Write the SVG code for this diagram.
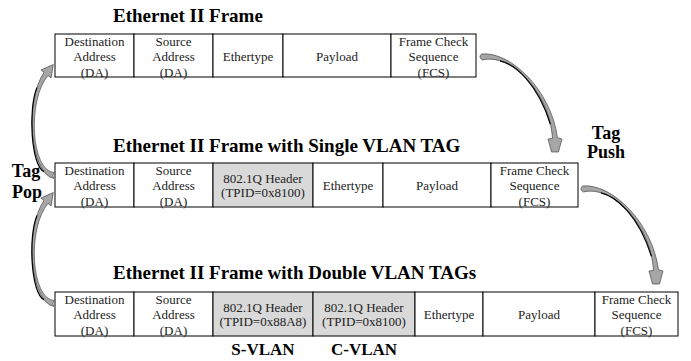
<svg xmlns="http://www.w3.org/2000/svg" width="691" height="361" viewBox="0 0 691 361">
<style>
.cell{fill:#fff;stroke:#000;stroke-width:1}
.tag{fill:#d9d9d9;stroke:#000;stroke-width:1}
.t{font-family:"Liberation Serif","Times New Roman",serif;font-size:13px;fill:#222;text-anchor:middle}
.title{font-family:"Liberation Serif","Times New Roman",serif;font-size:19px;font-weight:bold;fill:#000}
.lbl{font-family:"Liberation Serif","Times New Roman",serif;font-size:18px;font-weight:bold;fill:#000;text-anchor:middle}
.vl{font-family:"Liberation Serif","Times New Roman",serif;font-size:17px;font-weight:bold;fill:#000;text-anchor:middle}
.arr{fill:#a6a6a6;stroke:#333;stroke-width:0.6;stroke-linejoin:round}
.edge{fill:none;stroke:#000;stroke-width:1.2}
</style>
<defs>
<g id="pushArrow">
<path class="arr" d="M481.5,54 C510.4,51.1 550.9,89.6 557.5,137.7 L562,139 L558.5,152 L551.5,152 L548,139 L552.5,138.3 C549.1,90.4 509.6,52.9 482.5,60 Q478,57.5 481.5,54 Z"/>
<path class="edge" d="M500,60.8 C515,64 538,84 550.4,124.3"/>
</g>
<g id="popArrow">
<path class="arr" d="M53.6,178.5 C29.1,172.4 25,99.8 44,72.5 L40.9,70 L53.3,64.5 L51.1,78 L48,75.5 C27,100.2 30.9,171.6 54.4,172.5 Q52,175.5 53.6,178.5 Z"/>
<path class="edge" d="M44,171.6 C31,166 28,108 37,87.4"/>
</g>
</defs>

<text class="title" x="113" y="22">Ethernet II Frame</text>
<text class="title" x="113" y="152">Ethernet II Frame with Single VLAN TAG</text>
<text class="title" x="113" y="279">Ethernet II Frame with Double VLAN TAGs</text>

<g id="frame1">
<rect class="cell" x="55" y="34" width="79" height="43"/>
<rect class="cell" x="134" y="34" width="79" height="43"/>
<rect class="cell" x="213" y="34" width="70" height="43"/>
<rect class="cell" x="283" y="34" width="108" height="43"/>
<rect class="cell" x="391" y="34" width="85" height="43"/>
<text class="t" x="94.5" y="45.5">Destination</text>
<text class="t" x="94.5" y="61">Address</text>
<text class="t" x="94.5" y="76.5">(DA)</text>
<text class="t" x="173.5" y="45.5">Source</text>
<text class="t" x="173.5" y="61">Address</text>
<text class="t" x="173.5" y="76.5">(DA)</text>
<text class="t" x="248" y="60.5">Ethertype</text>
<text class="t" x="337" y="60.5">Payload</text>
<text class="t" x="433.5" y="45.5">Frame Check</text>
<text class="t" x="433.5" y="61">Sequence</text>
<text class="t" x="433.5" y="76.5">(FCS)</text>
</g>

<g id="frame2">
<rect class="cell" x="55" y="163" width="79" height="44"/>
<rect class="cell" x="134" y="163" width="79" height="44"/>
<rect class="tag" x="213" y="163" width="100" height="44"/>
<rect class="cell" x="313" y="163" width="70" height="44"/>
<rect class="cell" x="383" y="163" width="108" height="44"/>
<rect class="cell" x="491" y="163" width="87" height="44"/>
<text class="t" x="94.5" y="174.5">Destination</text>
<text class="t" x="94.5" y="190">Address</text>
<text class="t" x="94.5" y="205.5">(DA)</text>
<text class="t" x="173.5" y="174.5">Source</text>
<text class="t" x="173.5" y="190">Address</text>
<text class="t" x="173.5" y="205.5">(DA)</text>
<text class="t" x="263" y="182.5">802.1Q Header</text>
<text class="t" x="263" y="196.5">(TPID=0x8100)</text>
<text class="t" x="348" y="189.5">Ethertype</text>
<text class="t" x="437" y="189.5">Payload</text>
<text class="t" x="534.5" y="174.5">Frame Check</text>
<text class="t" x="534.5" y="190">Sequence</text>
<text class="t" x="534.5" y="205.5">(FCS)</text>
</g>

<g id="frame3">
<rect class="cell" x="55" y="292" width="79" height="44"/>
<rect class="cell" x="134" y="292" width="79" height="44"/>
<rect class="tag" x="213" y="292" width="100" height="44"/>
<rect class="tag" x="313" y="292" width="102" height="44"/>
<rect class="cell" x="415" y="292" width="68" height="44"/>
<rect class="cell" x="483" y="292" width="112" height="44"/>
<rect class="cell" x="595" y="292" width="83" height="44"/>
<text class="t" x="94.5" y="303.5">Destination</text>
<text class="t" x="94.5" y="319">Address</text>
<text class="t" x="94.5" y="334.5">(DA)</text>
<text class="t" x="173.5" y="303.5">Source</text>
<text class="t" x="173.5" y="319">Address</text>
<text class="t" x="173.5" y="334.5">(DA)</text>
<text class="t" x="263" y="312">802.1Q Header</text>
<text class="t" x="263" y="326">(TPID=0x88A8)</text>
<text class="t" x="364" y="312">802.1Q Header</text>
<text class="t" x="364" y="326">(TPID=0x8100)</text>
<text class="t" x="449" y="318.5">Ethertype</text>
<text class="t" x="539" y="318.5">Payload</text>
<text class="t" x="636.5" y="303.5">Frame Check</text>
<text class="t" x="636.5" y="319">Sequence</text>
<text class="t" x="636.5" y="334.5">(FCS)</text>
</g>

<g id="connectors">
<use href="#pushArrow"/>
<use href="#pushArrow" transform="translate(101,132)"/>
<use href="#popArrow"/>
<use href="#popArrow" transform="translate(0,128)"/>
</g>

<g id="labels">
<text class="lbl" x="606" y="139">Tag</text>
<text class="lbl" x="606" y="158">Push</text>
<text class="lbl" x="26" y="177">Tag</text>
<text class="lbl" x="27" y="198">Pop</text>
<text class="vl" x="263" y="355">S-VLAN</text>
<text class="vl" x="364" y="355">C-VLAN</text>
</g>
</svg>
